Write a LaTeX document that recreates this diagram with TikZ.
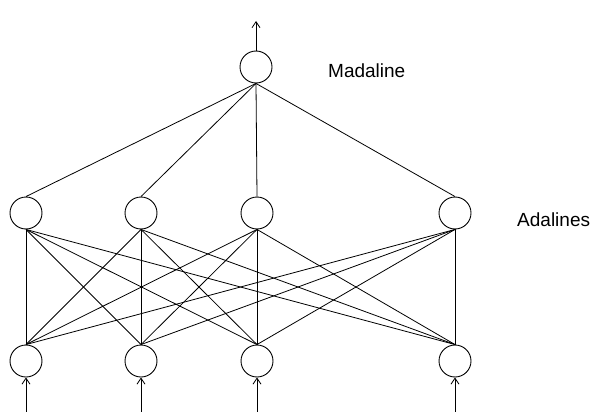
\documentclass[tikz,border=0pt]{standalone}
\usepackage{fontspec}
\setmainfont{Liberation Sans}
\usetikzlibrary{arrows.meta}
\begin{document}
\begin{tikzpicture}[x=1pt,y=-1pt,
  unit/.style={draw,circle,minimum size=32pt,inner sep=0pt,line width=0.9pt},
  conn/.style={line width=0.8pt},
  inarrow/.style={line width=0.9pt,-{Straight Barb[length=6pt,width=8pt,line width=0.8pt]}},
  lbl/.style={anchor=west,inner sep=0pt,font=\fontsize{19}{23}\selectfont}]
\useasboundingbox (0,0) rectangle (600,412);
\node[unit] (m) at (256,67) {};
\foreach \i/\x in {1/26,2/141,3/257,4/455}{
  \node[unit] (a\i) at (\x,213) {};
  \node[unit] (b\i) at (\x,361) {};
  \coordinate (in\i) at (\x,412);
}
\coordinate (out) at (256,21);
\draw[inarrow] (m.north) -- (out);
\foreach \i in {1,...,4}{
  \draw[conn] (m.south) -- (a\i.north);
  \draw[inarrow] (in\i) -- (b\i.south);
  \foreach \j in {1,...,4}{
    \draw[conn] (a\i.south) -- (b\j.north);
  }
}
\node[lbl] (t1) at (328,71) {Madaline};
\node[lbl] (t2) at (517,220) {Adalines};
\end{tikzpicture}
\end{document}
